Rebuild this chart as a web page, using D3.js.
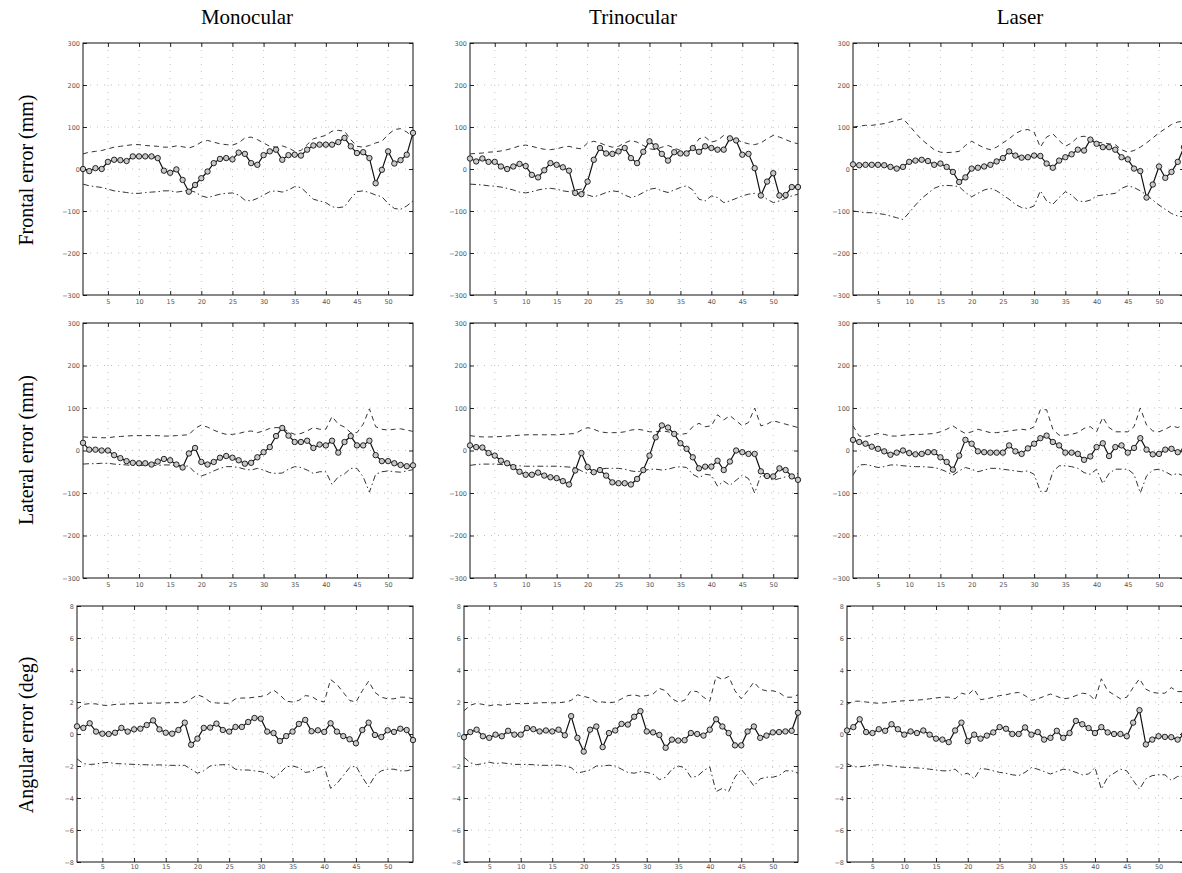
<!DOCTYPE html>
<html>
<head>
<meta charset="utf-8">
<script src="https://cdn.jsdelivr.net/npm/d3@7"></script>
<style>
  body { margin: 0; background: #fff; }
  svg { display: block; }
</style>
</head>
<body>
<svg id="chart" width="1182" height="873"></svg>
<script>
// column / row titles
const columns = ["Monocular", "Trinocular", "Laser"];
const rows = ["Frontal error (mm)", "Lateral error (mm)", "Angular error (deg)"];

const xTicks = [5, 10, 15, 20, 25, 30, 35, 40, 45, 50];
const mmTicks = [-300, -200, -100, 0, 100, 200, 300];
const degTicks = [-8, -6, -4, -2, 0, 2, 4, 6, 8];

// frontal error (mm), estimate and spread (+/-) per step
const frontalMono = [0,-5,2,0,17,22,21,19,30,30,30,30,26,-4,-9,-1,-26,-54,-38,-22,-6,14,24,26,23,39,36,14,10,33,42,46,22,33,34,32,46,56,58,58,58,64,74,54,38,40,26,-34,-2,42,13,21,34,86];
const frontalMonoSpread = [36,40,42,44,48,52,54,56,58,58,56,55,54,52,52,55,53,50,55,64,68,64,60,58,57,62,74,76,70,62,54,52,55,50,42,44,58,72,76,80,90,92,90,70,54,52,56,62,66,82,94,96,88,76];

const frontalTri = [25,18,25,17,17,6,0,6,12,7,-14,-20,-3,14,10,4,-4,-57,-60,-30,22,50,37,36,42,50,26,14,41,66,54,36,20,40,37,37,50,41,54,50,46,46,73,68,34,36,2,-63,-30,-10,-63,-62,-43,-43];
const frontalTriSpread = [36,37,38,40,41,43,46,50,55,57,54,50,47,46,48,52,54,50,48,62,66,62,56,52,54,62,68,64,56,48,46,52,56,50,44,40,50,72,76,64,68,80,76,70,64,60,58,62,72,80,76,70,64,60];

const frontalLaser = [11,9,10,10,10,9,5,1,5,17,20,22,19,10,13,5,-7,-31,-20,1,3,6,10,18,26,42,32,27,28,32,31,13,3,20,28,35,46,44,70,60,52,52,46,28,23,1,-5,-68,-37,6,-21,-7,17,52];
const frontalLaserSpread = [100,102,104,104,106,108,112,116,120,104,86,70,58,46,40,39,40,42,56,66,58,50,46,52,62,72,84,92,94,88,52,76,84,68,54,62,76,78,74,64,62,60,58,46,40,44,52,62,74,86,96,106,112,114];

// lateral error (mm)
const lateralMono = [18,2,2,0,0,-11,-18,-25,-29,-30,-30,-33,-26,-20,-23,-33,-40,-7,6,-27,-33,-27,-17,-13,-17,-23,-31,-29,-16,-4,8,34,53,35,20,20,23,6,14,12,23,-5,20,34,12,12,23,-11,-25,-25,-30,-34,-37,-35];
const lateralMonoSpread = [32,31,31,30,30,32,33,34,35,35,35,35,35,34,34,35,36,37,52,60,55,48,42,38,38,40,44,46,42,46,52,54,53,44,38,40,46,54,50,50,80,62,55,42,42,62,98,56,50,48,50,51,48,45];

const lateralTri = [12,8,7,-6,-12,-24,-30,-39,-50,-57,-57,-52,-59,-63,-65,-72,-80,-47,-6,-39,-51,-46,-59,-75,-77,-77,-80,-67,-46,-12,31,59,54,39,17,4,-16,-42,-38,-38,-24,-46,-26,0,-4,-8,-8,-49,-60,-61,-42,-46,-61,-69];
const lateralTriSpread = [35,33,32,32,32,33,34,35,36,37,37,37,37,37,37,38,39,40,48,54,50,44,42,42,42,44,48,50,48,44,44,46,44,40,38,40,56,64,56,58,84,72,82,70,58,66,100,58,62,70,66,62,58,54];

const lateralLaser = [25,20,16,9,4,-2,-10,-5,0,-6,-9,-8,-4,-4,-16,-27,-45,-12,25,16,-2,-4,-5,-5,-5,12,-2,-8,5,16,29,35,20,12,-5,-5,-8,-22,-14,8,17,-13,8,12,-5,6,29,2,-9,-8,2,4,-4,0];
const lateralLaserSpread = [58,34,33,36,40,38,34,34,36,37,38,38,39,40,44,50,58,48,40,44,50,46,42,42,44,46,48,50,48,56,96,96,50,36,36,38,42,52,56,44,78,54,44,44,44,56,100,60,46,44,50,58,54,60];

// angular error (deg)
const angularMono = [0.48,0.38,0.67,0.15,0.02,0,0.08,0.38,0.15,0.29,0.33,0.56,0.85,0.29,0.08,0.02,0.25,0.71,-0.67,-0.29,0.38,0.4,0.65,0.25,0.15,0.44,0.44,0.75,1.0,0.96,0.15,0.06,-0.44,-0.13,0.15,0.63,0.88,0.17,0.23,0.13,0.67,0.15,-0.13,-0.33,-0.58,0.25,0.71,-0.06,-0.19,0.23,0.13,0.33,0.25,-0.38];
const angularMonoSpread = [1.55,1.85,1.9,1.88,1.8,1.78,1.85,1.86,1.88,1.9,1.92,1.92,1.94,1.93,1.95,1.96,1.96,1.96,2.2,2.45,2.3,2.0,1.94,1.92,1.92,2.2,2.25,2.25,2.3,2.35,2.45,2.75,2.45,2.05,2.0,2.1,2.4,2.35,2.1,2.0,3.4,3.1,2.6,2.1,2.0,2.7,3.3,2.6,2.3,2.2,2.2,2.3,2.3,2.2];

const angularTri = [-0.2,0.12,0.27,-0.14,-0.24,-0.04,-0.14,0.2,-0.04,-0.04,0.37,0.3,0.16,0.22,0.16,0.27,-0.08,1.12,-0.24,-1.1,0.27,0.47,-0.82,0.06,0.22,0.63,0.59,1.08,1.43,0.16,0.1,-0.06,-0.86,-0.35,-0.41,-0.39,0.06,0,-0.1,0.27,0.92,0.47,0.06,-0.71,-0.71,0.16,0.47,-0.24,-0.1,0.1,0.12,0.16,0.2,1.33];
const angularTriSpread = [1.45,1.8,1.92,1.85,1.76,1.85,1.8,1.85,1.9,1.9,1.9,1.92,1.95,1.96,1.95,1.95,2.0,2.1,2.45,2.35,2.25,2.0,2.0,1.95,2.0,2.2,2.4,2.45,2.35,2.4,2.5,2.85,2.7,2.2,2.0,2.1,2.7,2.65,2.3,2.05,3.6,3.4,3.6,2.7,2.2,2.7,3.25,2.8,2.7,2.7,2.6,2.3,2.3,2.45];

const angularLaser = [0.22,0.43,0.92,0.12,0.06,0.3,0.2,0.61,0.3,-0.04,0.16,0.06,0.22,-0.04,-0.29,-0.35,-0.51,0.22,0.71,-0.45,-0.04,-0.29,-0.1,0.1,0.43,0.33,0,0,0.41,-0.04,0.12,-0.35,-0.24,0.2,-0.24,0.06,0.82,0.61,0.37,0.06,0.43,0.1,0,0,-0.14,0.71,1.49,-0.65,-0.35,-0.14,-0.18,-0.2,-0.35,-0.04];
const angularLaserSpread = [1.85,2.05,2.05,2.0,1.95,1.92,1.95,2.0,2.05,2.08,2.1,2.12,2.15,2.2,2.25,2.3,2.3,2.2,2.55,2.45,2.8,2.15,2.2,2.3,2.4,2.45,2.55,2.6,2.4,2.1,2.2,2.35,2.5,2.35,2.2,2.25,2.4,2.55,2.5,2.1,3.45,2.7,2.45,2.2,2.3,2.9,3.45,2.8,2.6,2.55,2.55,2.9,2.65,2.65];

const panels = [
  { row: 0, col: 0, values: frontalMono, spread: frontalMonoSpread },
  { row: 0, col: 1, values: frontalTri, spread: frontalTriSpread },
  { row: 0, col: 2, values: frontalLaser, spread: frontalLaserSpread },
  { row: 1, col: 0, values: lateralMono, spread: lateralMonoSpread },
  { row: 1, col: 1, values: lateralTri, spread: lateralTriSpread },
  { row: 1, col: 2, values: lateralLaser, spread: lateralLaserSpread },
  { row: 2, col: 0, values: angularMono, spread: angularMonoSpread },
  { row: 2, col: 1, values: angularTri, spread: angularTriSpread },
  { row: 2, col: 2, values: angularLaser, spread: angularLaserSpread }
];

// layout of the grid
const rowTop = [43, 323, 606];
const rowBottom = [295, 578, 862];
const colLeft = [[83, 470, 853], [83, 470, 853], [77, 464, 847]];
const colRight = [413, 798, 1184];
const colCenter = [247, 633, 1020];
const rowCenter = [170, 450, 735];

const svg = d3.select("#chart");
const serif = "'Liberation Serif', 'DejaVu Serif', serif";

svg.selectAll(".coltitle").data(columns).join("text")
  .attr("x", (d, i) => colCenter[i])
  .attr("y", 24)
  .attr("text-anchor", "middle")
  .style("font-family", serif)
  .style("font-size", "21px")
  .text(d => d);

svg.selectAll(".rowtitle").data(rows).join("text")
  .attr("transform", (d, i) => `translate(33,${rowCenter[i]}) rotate(-90)`)
  .attr("text-anchor", "middle")
  .style("font-family", serif)
  .style("font-size", "20px")
  .text(d => d);

panels.forEach(p => {
  const left = colLeft[p.row][p.col], right = colRight[p.col];
  const top = rowTop[p.row], bottom = rowBottom[p.row];
  const yTicks = p.row === 2 ? degTicks : mmTicks;
  const idx = d3.range(1, p.values.length + 1);

  const x = d3.scaleLinear().domain([1, 54]).range([left, right]);
  const y = d3.scaleLinear().domain([yTicks[0], yTicks[yTicks.length - 1]]).range([bottom, top]);

  const g = svg.append("g");

  // dotted grid
  g.append("g").selectAll("line").data(xTicks).join("line")
    .attr("x1", d => x(d)).attr("x2", d => x(d))
    .attr("y1", top).attr("y2", bottom)
    .attr("stroke", "#b0b0b0").attr("stroke-width", 0.8).attr("stroke-dasharray", "1,6");
  g.append("g").selectAll("line").data(yTicks.slice(1, -1)).join("line")
    .attr("x1", left).attr("x2", right)
    .attr("y1", d => y(d)).attr("y2", d => y(d))
    .attr("stroke", "#b0b0b0").attr("stroke-width", 0.8).attr("stroke-dasharray", "1,6");

  // axes with inward ticks
  const styleAxis = a => a.call(s => s.select(".domain").remove())
    .call(s => s.selectAll(".tick line").attr("stroke", "#222"))
    .call(s => s.selectAll("text").style("font-family", "'DejaVu Sans', sans-serif")
      .style("font-size", "6.5px").attr("fill", "#555"));

  g.append("g").attr("transform", `translate(${left},0)`)
    .call(d3.axisLeft(y).tickValues(yTicks).tickSize(-4).tickPadding(3))
    .call(styleAxis);
  g.append("g").attr("transform", `translate(${right},0)`)
    .call(d3.axisRight(y).tickValues(yTicks).tickSize(-4).tickFormat(""))
    .call(styleAxis);
  g.append("g").attr("transform", `translate(0,${bottom})`)
    .call(d3.axisBottom(x).tickValues(xTicks).tickSize(-4).tickPadding(p.row === 2 ? 2 : 4))
    .call(styleAxis);
  g.append("g").attr("transform", `translate(0,${top})`)
    .call(d3.axisTop(x).tickValues(xTicks).tickSize(-4).tickFormat(""))
    .call(styleAxis);

  g.append("rect")
    .attr("x", left).attr("y", top)
    .attr("width", right - left).attr("height", bottom - top)
    .attr("fill", "none").attr("stroke", "#111").attr("stroke-width", 1);

  // spread bounds
  const bound = d3.line().x((d, i) => x(idx[i])).y(d => y(d));
  g.append("path").datum(p.spread)
    .attr("d", bound)
    .attr("fill", "none").attr("stroke", "#333").attr("stroke-width", 1)
    .attr("stroke-dasharray", "5,4");
  g.append("path").datum(p.spread.map(v => -v))
    .attr("d", bound)
    .attr("fill", "none").attr("stroke", "#333").attr("stroke-width", 1)
    .attr("stroke-dasharray", "6,3,1.5,3");

  // estimate line with markers
  g.append("path").datum(p.values)
    .attr("d", d3.line().x((d, i) => x(idx[i])).y(d => y(d)))
    .attr("fill", "none").attr("stroke", "#111").attr("stroke-width", 1.2);
  g.append("g").selectAll("circle").data(p.values).join("circle")
    .attr("cx", (d, i) => x(idx[i]))
    .attr("cy", d => y(d))
    .attr("r", 2.7)
    .attr("fill", "#c8c8c8").attr("stroke", "#111").attr("stroke-width", 0.9);
});
</script>
</body>
</html>
